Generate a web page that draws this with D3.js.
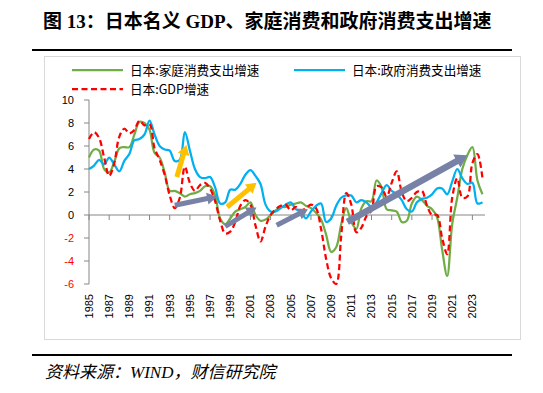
<html>
<head>
<meta charset="utf-8">
<style>
body { margin: 0; background: #fff; }
svg { display: block; }
.title { font-family: "Liberation Serif", "Noto Sans CJK SC"; font-weight: bold; font-size: 19px; }
.legend text { font-family: "Noto Sans CJK SC"; font-size: 12.6px; fill: #000; }
.ylab { font-family: "Liberation Sans", Arial; font-size: 11px; }
.xlab { font-family: "Liberation Sans", Arial; font-size: 11px; fill: #000; }
.source { font-family: "Liberation Serif", "Noto Sans CJK SC"; font-style: italic; font-size: 17px; }
</style>
</head>
<body>
<svg width="543" height="393"></svg>
<script src="https://cdn.jsdelivr.net/npm/d3@7"></script>
<script>

// half-year points, 1985.0 .. 2024.0
var startYear = 1985, stepYear = 0.5;

var household = [
  5.0, 5.7, 5.6, 4.0, 3.7, 4.6, 5.8, 5.9, 5.9, 7.0,
  8.1, 8.0, 7.4, 5.4, 5.0, 3.7, 2.1, 2.1, 1.9, 1.6,
  1.8, 1.9, 2.1, 2.5, 2.5, 1.7, -0.3, -0.8, -0.3, 0.3,
  0.5, 0.7, 1.1, 0.0, -0.5, -0.4, 0.0, 0.4, 0.7, 0.7,
  0.9, 1.0, 1.1, 0.8, 0.6, 0.2, -0.4, -1.7, -3.2, -2.8,
  -0.8, 0.6, -0.6, -1.2, 0.6, 1.2, 1.2, 3.0, 2.4, 0.5,
  0.4, 0.3, -0.6, -0.5, 1.0, 1.6, 1.3, 0.8, 0.5, -0.2,
  -3.0, -5.3, -0.8, 1.5, 4.0, 5.2, 5.9, 3.0, 1.8
];

var government = [
  4.0, 4.3, 4.8, 4.4, 5.0, 4.4, 3.8, 4.7, 5.3, 6.5,
  6.6, 7.0, 8.2, 7.0, 6.0, 5.7, 5.6, 4.7, 4.8, 7.2,
  5.6, 4.0, 3.3, 3.2, 3.3, 2.4, 1.0, 1.1, 2.2, 2.2,
  2.7, 3.5, 3.9, 3.4, 2.7, 0.9, 0.3, 0.3, 0.6, 0.9,
  1.1, 0.5, 0.3, -0.3, 0.3, 0.8, 1.0, -0.6, -0.3, 0.8,
  1.5, 1.7, 1.7, 1.1, 1.3, 1.1, 0.7, 1.1, 1.9, 2.6,
  2.1, 1.8, 1.3, 0.5, 0.3, 1.1, 1.4, 1.5, 1.8, 2.3,
  2.3, 1.8, 2.9, 4.0, 3.2, 2.7, 2.8, 1.0, 1.1
];

var gdp = [
  6.6, 7.2, 6.7, 5.0, 3.4, 4.5, 6.8, 7.5, 7.1, 7.4,
  8.2, 7.8, 7.9, 5.8, 4.8, 3.5, 1.7, 0.6, 1.5, 4.2,
  2.8, 2.1, 2.6, 2.8, 2.3, 1.2, -0.5, -1.6, -1.45, -0.6,
  0.8, 1.3, 0.9, -0.9, -2.3, -1.0, 0.0, 0.5, 0.8, 0.9,
  0.4, 0.7, 0.4, 0.6, 0.9, 0.6, -1.2, -3.8, -5.5, -6.0,
  -1.8, 1.9, 0.9, -1.5, -1.1, -0.1, 0.4, 2.5, 2.4, 1.6,
  2.8, 3.8, 2.0, 1.2, 1.5, 2.0, 2.1, 0.8, 0.0, 0.0,
  -2.0, -3.4, 1.5, 3.2, 1.5, 1.6, 4.5, 5.3, 3.2
];

var seriesNames = ["日本:家庭消费支出增速", "日本:政府消费支出增速", "日本:GDP增速"];
var yTicks = [-6, -4, -2, 0, 2, 4, 6, 8, 10];
var xTickYears = [1985, 1987, 1989, 1991, 1993, 1995, 1997, 1999, 2001, 2003,
  2005, 2007, 2009, 2011, 2013, 2015, 2017, 2019, 2021, 2023];

// annotation arrows, [year, value] from -> to
var grayArrows = [
  [[1993.5, 0.85], [1997.7, 1.6]],
  [[1998.5, -1.0], [2001.6, 0.65]],
  [[2003.6, -0.9], [2006.7, 0.5]]
];
var bigArrow = [[2010.6, -0.6], [2022.5, 5.2]];
var orangeArrows = [
  [[1993.7, 3.3], [1994.65, 6.1]],
  [[1998.7, 0.7], [2001.6, 2.8]]
];

var svg = d3.select("svg");

// title and rules
svg.append("text").attr("class", "title")
  .attr("x", 43).attr("y", 28)
  .text("图 13：日本名义 GDP、家庭消费和政府消费支出增速");
svg.append("line").attr("x1", 32).attr("x2", 512).attr("y1", 50).attr("y2", 50)
  .attr("stroke", "#000").attr("stroke-width", 2.2);

svg.append("rect").attr("x", 44.5).attr("y", 56.5).attr("width", 476).attr("height", 283)
  .attr("fill", "none").attr("stroke", "#d9d9d9").attr("stroke-width", 1);

svg.append("line").attr("x1", 32).attr("x2", 512).attr("y1", 355).attr("y2", 355)
  .attr("stroke", "#000").attr("stroke-width", 2.2);
svg.append("text").attr("class", "source")
  .attr("x", 45).attr("y", 378)
  .text("资料来源：WIND，财信研究院");

// scales
var x = d3.scaleLinear().domain([1985, 2024.25]).range([89, 485]);
var y = d3.scaleLinear().domain([-6, 10]).range([284, 100]);

// axes
var axisColor = "#868686";
svg.append("line").attr("x1", 89).attr("x2", 89).attr("y1", y(10)).attr("y2", y(-6))
  .attr("stroke", axisColor);
svg.selectAll(".ytick").data(yTicks).enter().append("line")
  .attr("x1", 84).attr("x2", 89)
  .attr("y1", function(d) { return y(d); }).attr("y2", function(d) { return y(d); })
  .attr("stroke", axisColor);
svg.selectAll(".ylab").data(yTicks).enter().append("text")
  .attr("class", "ylab")
  .attr("x", 74).attr("y", function(d) { return y(d); })
  .attr("dy", "0.35em").attr("text-anchor", "end")
  .attr("fill", function(d) { return d < 0 ? "#ff0000" : "#000"; })
  .text(function(d) { return d; });

svg.append("line").attr("x1", x(1985)).attr("x2", x(2024.25)).attr("y1", y(0)).attr("y2", y(0))
  .attr("stroke", axisColor);
svg.selectAll(".xtick").data(xTickYears).enter().append("line")
  .attr("x1", function(d) { return x(d); }).attr("x2", function(d) { return x(d); })
  .attr("y1", y(0)).attr("y2", y(0) + 5)
  .attr("stroke", axisColor);
svg.selectAll(".xlab").data(xTickYears).enter().append("text")
  .attr("class", "xlab")
  .attr("transform", function(d) { return "translate(" + x(d) + ",294) rotate(-90)"; })
  .attr("dy", "0.35em").attr("text-anchor", "end")
  .text(function(d) { return d; });

// series lines
function pts(arr) {
  return arr.map(function(v, i) { return [startYear + i * stepYear, v]; });
}
var line = d3.line()
  .x(function(d) { return x(d[0]); })
  .y(function(d) { return y(d[1]); })
  .curve(d3.curveCatmullRom.alpha(0.5));

var series = [
  { name: seriesNames[0], values: household, color: "#70ad47", dash: null },
  { name: seriesNames[1], values: government, color: "#00b0f0", dash: null },
  { name: seriesNames[2], values: gdp, color: "#ff0000", dash: "6,3.5" }
];

svg.append("g").selectAll("path").data(series).enter().append("path")
  .attr("d", function(d) { return line(pts(d.values)); })
  .attr("fill", "none")
  .attr("stroke", function(d) { return d.color; })
  .attr("stroke-width", 2.25)
  .attr("stroke-dasharray", function(d) { return d.dash; });

// arrows
function arrowPath(a, shaft, headW, headL) {
  var x0 = x(a[0][0]), y0 = y(a[0][1]), x1 = x(a[1][0]), y1 = y(a[1][1]);
  var dx = x1 - x0, dy = y1 - y0, len = Math.sqrt(dx * dx + dy * dy);
  var ux = dx / len, uy = dy / len, nx = -uy, ny = ux;
  var bx = x1 - ux * headL, by = y1 - uy * headL;
  var p = [
    [x0 + nx * shaft / 2, y0 + ny * shaft / 2],
    [bx + nx * shaft / 2, by + ny * shaft / 2],
    [bx + nx * headW / 2, by + ny * headW / 2],
    [x1, y1],
    [bx - nx * headW / 2, by - ny * headW / 2],
    [bx - nx * shaft / 2, by - ny * shaft / 2],
    [x0 - nx * shaft / 2, y0 - ny * shaft / 2]
  ];
  return "M" + p.map(function(q) { return q[0].toFixed(1) + "," + q[1].toFixed(1); }).join("L") + "Z";
}

var ag = svg.append("g");
grayArrows.forEach(function(a) {
  ag.append("path").attr("d", arrowPath(a, 5, 12, 10)).attr("fill", "#7782a6");
});
ag.append("path").attr("d", arrowPath(bigArrow, 6.5, 15, 12)).attr("fill", "#7782a6");
orangeArrows.forEach(function(a) {
  ag.append("path").attr("d", arrowPath(a, 5, 12, 10)).attr("fill", "#ffc000");
});

// legend
var lg = svg.append("g").attr("class", "legend");
var legendPos = [[72, 70], [294, 70], [72, 89]];
series.forEach(function(s, i) {
  var p = legendPos[i];
  lg.append("line").attr("x1", p[0]).attr("x2", p[0] + 51).attr("y1", p[1]).attr("y2", p[1])
    .attr("stroke", s.color).attr("stroke-width", 2.25)
    .attr("stroke-dasharray", s.dash);
  lg.append("text").attr("x", p[0] + 58).attr("y", p[1]).attr("dy", "0.36em").text(s.name);
});

</script>
</body>
</html>
